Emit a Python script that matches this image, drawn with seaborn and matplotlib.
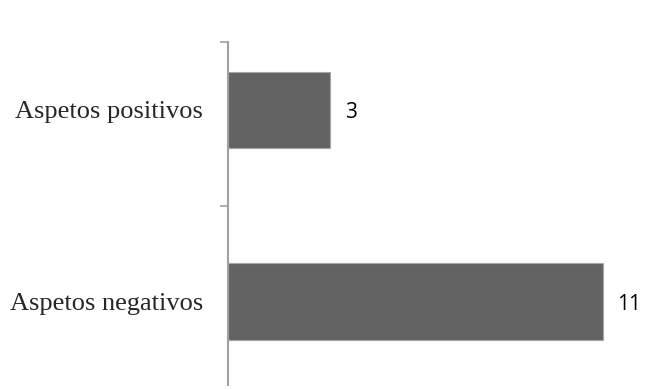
import matplotlib
matplotlib.use("Agg")
import matplotlib.pyplot as plt
import seaborn as sns
import pandas as pd

categories = ["Aspetos positivos", "Aspetos negativos"]
values = [3, 11]

df = pd.DataFrame({"cat": categories, "val": values})

sns.set_style("white")
fig = plt.figure(figsize=(6.48, 3.9), dpi=100)
ax = fig.add_axes([228/648, 5/390, 420/648, 343/390])

sns.barplot(data=df, y="cat", x="val", orient="h", ax=ax, color="#636363",
            saturation=1, width=0.40, edgecolor="#a6a6a6", linewidth=0.8)

ax.set_xlim(0, 420/34.1)
ax.set_ylim(1.436, -0.355)
ax.set_xlabel("")
ax.set_ylabel("")
ax.set_xticks([])
ax.set_yticks([0, 1])
ax.set_yticklabels(categories, fontfamily="Liberation Serif", fontsize=19)
ax.tick_params(axis="y", which="major", length=0, pad=18)
ax.set_yticks([-0.355, 0.5], minor=True)
ax.tick_params(axis="y", which="minor", left=True, length=6, color="#a0a0a0", width=1.2)

for s in ["top", "right", "bottom"]:
    ax.spines[s].set_visible(False)
ax.spines["left"].set_color("#a0a0a0")
ax.spines["left"].set_linewidth(1.5)

for i, v in enumerate(values):
    ax.text(v + 0.42, i, str(v), va="center_baseline", ha="left", fontsize=15,
            fontfamily="Open Sans", color="black")

fig.savefig("out.png", dpi=100)
